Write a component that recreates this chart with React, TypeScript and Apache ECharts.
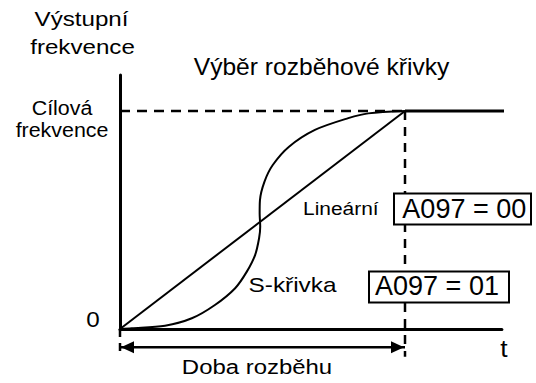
import React, { useEffect, useRef } from "react";
import * as echarts from "echarts";

// ---- data (axis units: time 0..1 = ramp time, output 0..1 = target frequency) ----
const X_MAX = 1.34;          // end of the time axis
const Y_MAX = 1.165;         // top of the frequency axis
const RAMP_END = 1;          // time at which the target is reached
const TARGET = 1;            // target frequency level
const HOLD_END = 1.35;       // end of the solid target line
const DROP_BOTTOM = -0.128;  // bottom of the dashed drop lines
const ARROW_LEVEL = -0.084;  // level of the "Doba rozběhu" arrow

const linearRamp: [number, number][] = [
  [0, 0],
  [RAMP_END, TARGET],
];

const sCurve: [number, number][] = [
  [0, 0],
  [0.041, 0.003],
  [0.158, 0.015],
  [0.252, 0.049],
  [0.333, 0.11],
  [0.404, 0.187],
  [0.445, 0.263],
  [0.474, 0.339],
  [0.488, 0.416],
  [0.492, 0.47],
  [0.49, 0.53],
  [0.491, 0.59],
  [0.507, 0.676],
  [0.536, 0.752],
  [0.593, 0.836],
  [0.684, 0.913],
  [0.801, 0.967],
  [0.871, 0.989],
  [1, 1],
];

const targetDashed: [number, number][] = [
  [0, TARGET],
  [RAMP_END, TARGET],
];
const targetHold: [number, number][] = [
  [RAMP_END, TARGET],
  [HOLD_END, TARGET],
];
const rampEndDrop: [number, number][] = [
  [RAMP_END, TARGET],
  [RAMP_END, DROP_BOTTOM],
];
const originDrop: [number, number][] = [
  [0, 0],
  [0, DROP_BOTTOM],
];

// ---- texts ----
const yTitle = ["Výstupní", "frekvence"];
const chartTitle = "Výběr rozběhové křivky";
const targetLabel = ["Cílová", "frekvence"];
const zeroLabel = "0";
const timeLabel = "t";
const rampTimeLabel = "Doba rozběhu";
const linearLabel = "Lineární";
const sCurveLabel = "S-křivka";
const linearCode = "A097 = 00";
const sCurveCode = "A097 = 01";

const FONT = "'Liberation Sans', Arial, Helvetica, sans-serif";
const PX_X = 285; // pixels per time unit
const PX_Y = 218; // pixels per frequency unit
const GRID_LEFT = 120;
const GRID_TOP = 75;

function txt(text: string, x: number, y: number, size: number, sx = 1) {
  return {
    type: "text",
    x,
    y,
    scaleX: sx,
    z: 101,
    silent: true,
    style: {
      text,
      fontSize: size,
      fontFamily: FONT,
      fill: "#000",
      align: "center",
      verticalAlign: "middle",
    },
  };
}

export default function App() {
  const ref = useRef<HTMLDivElement>(null);

  useEffect(() => {
    if (!ref.current) return;
    const chart = echarts.init(ref.current, undefined, { renderer: "svg" });

    const lineBase = {
      type: "line",
      symbol: "none",
      silent: true,
      clip: false,
      smooth: false,
      z: 3,
    };

    chart.setOption({
      animation: false,
      backgroundColor: "#fff",
      grid: {
        left: GRID_LEFT,
        top: GRID_TOP,
        width: X_MAX * PX_X,
        height: Y_MAX * PX_Y,
        containLabel: false,
      },
      xAxis: {
        type: "value",
        min: 0,
        max: X_MAX,
        axisLine: { show: true, onZero: false, lineStyle: { color: "#000", width: 3 } },
        axisTick: { show: false },
        axisLabel: { show: false },
        splitLine: { show: false },
      },
      yAxis: {
        type: "value",
        min: 0,
        max: Y_MAX,
        axisLine: { show: true, onZero: false, lineStyle: { color: "#000", width: 3 } },
        axisTick: { show: false },
        axisLabel: { show: false },
        splitLine: { show: false },
      },
      series: [
        { ...lineBase, name: "dashedTarget", data: targetDashed, lineStyle: { color: "#000", width: 2.5, type: [10, 7] } },
        { ...lineBase, name: "hold", data: targetHold, lineStyle: { color: "#000", width: 3 } },
        { ...lineBase, name: "drop", data: rampEndDrop, lineStyle: { color: "#000", width: 2.5, type: [9, 7] } },
        { ...lineBase, name: "originDrop", data: originDrop, lineStyle: { color: "#000", width: 2.5, type: [8, 6] } },
        { ...lineBase, name: "linear", data: linearRamp, lineStyle: { color: "#000", width: 2 } },
        { ...lineBase, name: "sCurve", data: sCurve, smooth: 0.3, lineStyle: { color: "#000", width: 2 } },
        {
          ...lineBase,
          name: "arrow",
          itemStyle: { color: "#000" },
          lineStyle: { color: "#000", width: 2.5 },
          data: [
            { value: [0, ARROW_LEVEL], symbol: "triangle", symbolSize: [12, 13], symbolRotate: 90, symbolOffset: [7.5, 0] },
            { value: [RAMP_END, ARROW_LEVEL], symbol: "triangle", symbolSize: [12, 13], symbolRotate: -90, symbolOffset: [-7.5, 0] },
          ],
        },
      ],
      graphic: {
        elements: [
          txt(yTitle[0], 81.5, 19.5, 21, 1.15),
          txt(yTitle[1], 82.5, 47.5, 21, 1.15),
          txt(chartTitle, 321.5, 67, 23, 1.07),
          txt(targetLabel[0], 62, 107.8, 20, 1.07),
          txt(targetLabel[1], 62, 129.8, 20, 1.07),
          txt(zeroLabel, 93, 319, 22, 1.1),
          txt(timeLabel, 504, 348.5, 24, 1.1),
          txt(rampTimeLabel, 257, 367.5, 21, 1.14),
          txt(linearLabel, 340.8, 208.2, 19, 1.1),
          txt(sCurveLabel, 292.5, 284.2, 21, 1.16),
          {
            type: "rect",
            z: 100,
            silent: true,
            shape: { x: 394, y: 193.5, width: 137, height: 31 },
            style: { fill: "#fff", stroke: "#000", lineWidth: 2 },
          },
          txt(linearCode, 464.3, 208.6, 27),
          {
            type: "rect",
            z: 100,
            silent: true,
            shape: { x: 369, y: 271.5, width: 140, height: 31 },
            style: { fill: "#fff", stroke: "#000", lineWidth: 2 },
          },
          txt(sCurveCode, 437, 286.3, 27),
        ],
      },
    });

    return () => chart.dispose();
  }, []);

  return (
    <div
      ref={ref}
      style={{ position: "fixed", left: 0, top: 0, width: 536, height: 383 }}
    />
  );
}
